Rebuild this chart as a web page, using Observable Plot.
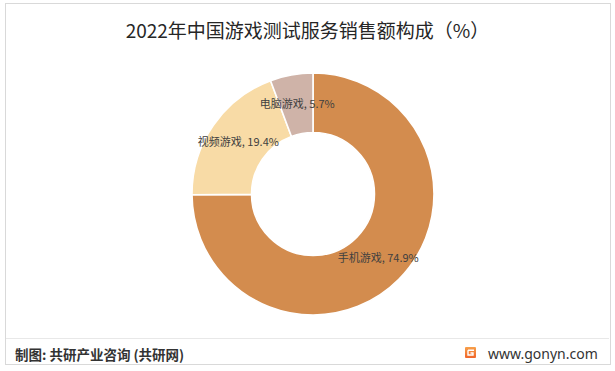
<!DOCTYPE html>
<html><head><meta charset="utf-8">
<script src="https://cdn.jsdelivr.net/npm/d3@7"></script>
<script src="https://cdn.jsdelivr.net/npm/@observablehq/plot@0.6"></script>
<style>
body{margin:0;background:#fff;}
#wrap{position:relative;width:615px;height:371px;overflow:hidden;font-family:"Noto Sans CJK SC","Noto Sans",sans-serif;background:#fff;}
#frame{position:absolute;left:5px;top:3px;width:604px;height:360px;border:1px solid #d9d9d9;}
#title{position:absolute;left:0;top:18px;width:615px;text-align:center;font-size:19px;color:#262626;line-height:24px;white-space:nowrap;}
#sep{position:absolute;left:6px;top:338px;width:603px;height:0;border-top:1px solid #e8e8e8;}
#src{position:absolute;left:15px;top:344px;font-size:13.5px;font-weight:bold;color:#333;line-height:20px;white-space:nowrap;}
#site{position:absolute;left:488px;top:344px;font-size:14px;color:#333;line-height:20px;font-family:"Noto Sans","DejaVu Sans",sans-serif;white-space:nowrap;}
#logo{position:absolute;left:465px;top:347px;}
#chart{position:absolute;left:0;top:0;}
</style></head>
<body>
<div id="wrap">
  <div id="frame"></div>
  <div id="chart"></div>
  <div id="title">2022年中国游戏测试服务销售额构成（%）</div>
  <div id="sep"></div>
  <div id="src">制图: 共研产业咨询 (共研网)</div>
  <svg id="logo" width="11" height="11" viewBox="0 0 11 11">
    <defs><linearGradient id="lg" x1="0" y1="0" x2="0" y2="1"><stop offset="0" stop-color="#f7a04a"/><stop offset="1" stop-color="#f0652a"/></linearGradient></defs>
    <rect x="0" y="0" width="11" height="11" rx="1" fill="url(#lg)"/>
    <path d="M3 3.2 H9 M3 3.2 V8 H8 V6 H5.5" stroke="#fff" stroke-width="1.4" fill="none"/>
  </svg>
  <div id="site">www.gonyn.com</div>
</div>
<script>
const categories = ["手机游戏", "视频游戏", "电脑游戏"];
const shares = [74.9, 19.4, 5.7];
const colors = ["#D38C4E", "#F8DBA6", "#CFB3A8"];

const innerRatio = 0.508;
const data = categories.map((c, i) => ({category: c, value: shares[i], color: colors[i]}));
const arcs = d3.pie().sort(null).value(d => d.value)(data);
const unitArc = d3.arc().innerRadius(innerRatio).outerRadius(1);
const labels = arcs.map(a => {
  const [cx, cy] = unitArc.centroid(a);
  return {cx, cy: -cy, label: `${a.data.category}, ${a.data.value}%`};
});

function donut(index, scales) {
  const x0 = scales.x(0), y0 = scales.y(0);
  const R = scales.x(1) - x0;
  const arc = d3.arc().innerRadius(R * innerRatio).outerRadius(R);
  const g = d3.create("svg:g").attr("transform", `translate(${x0},${y0})`);
  g.selectAll("path").data(arcs).join("path")
    .attr("d", arc)
    .attr("fill", d => d.data.color)
    .attr("stroke", "#fff")
    .attr("stroke-width", 1.6);
  return g.node();
}

const chart = Plot.plot({
  width: 615,
  height: 371,
  marginLeft: 192,
  marginRight: 181,
  marginTop: 73,
  marginBottom: 56,
  style: {background: "transparent", fontFamily: "'Noto Sans CJK SC', sans-serif"},
  x: {domain: [-1, 1], axis: null},
  y: {domain: [-1, 1], axis: null},
  marks: [
    donut,
    Plot.text(labels, {x: "cx", y: "cy", text: "label", fontSize: 11, fill: "#404040", fontFamily: "'Noto Sans CJK SC', sans-serif"})
  ]
});
document.getElementById("chart").appendChild(chart);
</script>
</body></html>
